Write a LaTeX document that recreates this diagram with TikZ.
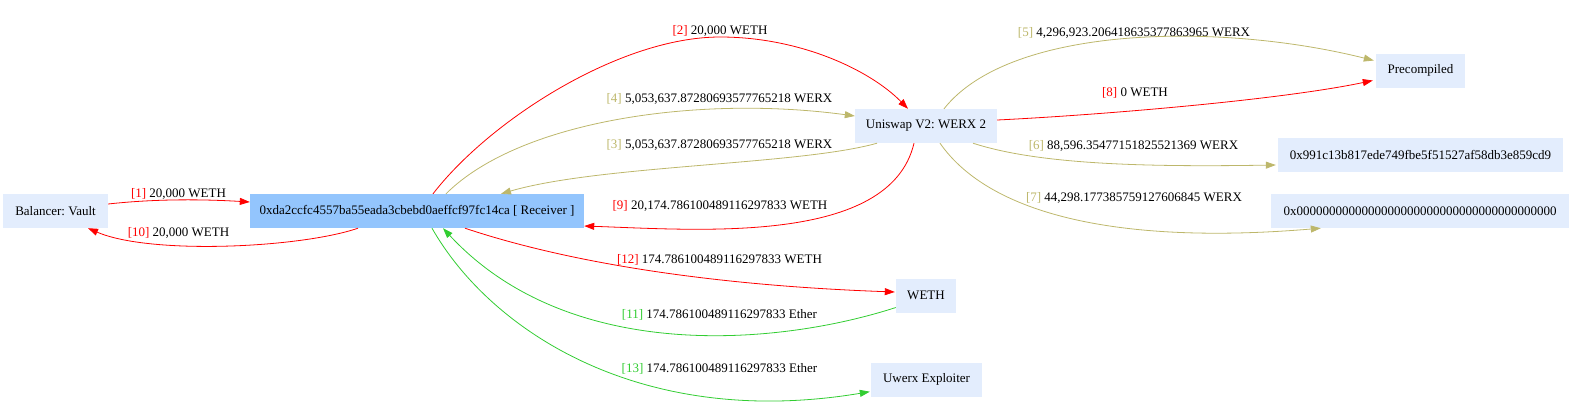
\documentclass[tikz,border=0pt]{standalone}
\usepackage{fontspec}
\setmainfont{Liberation Serif}
\usetikzlibrary{arrows.meta}
\usetikzlibrary{calc}
\definecolor{boxfill}{HTML}{E3EDFD}
\definecolor{recvfill}{HTML}{93C5FD}
\definecolor{werx}{HTML}{BDB76B}
\definecolor{eth}{HTML}{32CD32}
\frenchspacing

\tikzset{
    acct/.style={fill=boxfill,minimum height=34pt,inner sep=0pt,font=\fontsize{13}{15}\selectfont},
    lab/.style={anchor=base,inner sep=0pt,font=\fontsize{13}{15}\selectfont},
    flow/.style={line width=0.8pt,-{Triangle[length=10pt,width=7pt]}},
}

\begin{document}
\begin{tikzpicture}[x=1pt,y=-1pt]
    \useasboundingbox (0,0) rectangle (1573,405);

    \node[acct,minimum width=105pt] (vault) at (55.5,211) {Balancer: Vault};
    \node[acct,fill=recvfill,minimum width=334pt] (recv) at (417,211) {0xda2ccfc4557ba55eada3cbebd0aeffcf97fc14ca [ Receiver ]};
    \node[acct,minimum width=142pt] (uni) at (926,126) {Uniswap V2: WERX 2};
    \node[acct,minimum width=89pt] (precomp) at (1420.5,70.5) {Precompiled};
    \node[acct,minimum width=285pt] (addrA) at (1420.5,154.5) {0x991c13b817ede749fbe5f51527af58db3e859cd9};
    \node[acct,minimum width=298pt] (addrB) at (1420,211) {0x0000000000000000000000000000000000000000};
    \node[acct,minimum width=60pt] (weth) at (926,295.5) {WETH};
    \node[acct,minimum width=111pt] (exploiter) at (926.5,379.5) {Uwerx Exploiter};

    % transfers
    \draw[flow,red] ($(vault.east)+(0,-7)$) .. controls +(45,-5) and +(-50,-3) .. ($(recv.west)+(0,-9)$);
    \draw[flow,red] ($(recv.north)+(16,0)$) .. controls (490,120) and (620,37) .. (720,37) .. controls (800,37) and (870,70) .. ($(uni.north)+(-18,0)$);
    \draw[flow,werx] ($(uni.south)+(-49,0)$) .. controls (800,165) and (600,165) .. ($(recv.north)+(84,0)$);
    \draw[flow,werx] ($(recv.north)+(29,0)$) .. controls (520,120) and (700,95) .. ($(uni.west)+(0,-10)$);
    \draw[flow,werx] ($(uni.north)+(18,0)$) .. controls (1010,25) and (1220,22) .. ($(precomp.west)+(-2,-10)$);
    \draw[flow,werx] ($(uni.south)+(47,0)$) .. controls (1040,165) and (1150,167) .. ($(addrA.west)+(-2,10.5)$);
    \draw[flow,werx] ($(uni.south)+(14,0)$) .. controls (990,215) and (1120,245) .. ($(addrB.south west)+(50,0)$);
    \draw[flow,red] ($(uni.east)+(0,-6)$) .. controls (1100,115) and (1280,100) .. ($(precomp.west)+(-3,10)$);
    \draw[flow,red] ($(uni.south)+(-12,0)$) .. controls (890,245) and (700,230) .. ($(recv.east)+(0,15)$);
    \draw[flow,red] ($(recv.south)+(-59,0)$) .. controls (300,248) and (150,255) .. ($(vault.south)+(32.5,0)$);
    \draw[flow,eth] ($(weth.west)+(0,12)$) .. controls (780,345) and (570,365) .. ($(recv.south)+(26,0)$);
    \draw[flow,red] ($(recv.south)+(48,0)$) .. controls (560,260) and (700,285) .. ($(weth.west)+(-1,-3.5)$);
    \draw[flow,eth] ($(recv.south)+(15,0)$) .. controls (490,330) and (640,430) .. ($(exploiter.south west)+(-1,-5)$);

    \node[lab] (l1) at (178.5,197.5) {\textcolor{red}{[1]} 20,000 WETH};
    \node[lab] (l2) at (720,34) {\textcolor{red}{[2]} 20,000 WETH};
    \node[lab] (l3) at (719.5,148.7) {\textcolor{werx}{[3]} 5,053,637.87280693577765218 WERX};
    \node[lab] (l4) at (719.5,102.3) {\textcolor{werx}{[4]} 5,053,637.87280693577765218 WERX};
    \node[lab] (l5) at (1134,36) {\textcolor{werx}{[5]} 4,296,923.206418635377863965 WERX};
    \node[lab] (l6) at (1133.5,149.3) {\textcolor{werx}{[6]} 88,596.35477151825521369 WERX};
    \node[lab] (l7) at (1134,201) {\textcolor{werx}{[7]} 44,298.177385759127606845 WERX};
    \node[lab] (l8) at (1135,96) {\textcolor{red}{[8]} 0 WETH};
    \node[lab] (l9) at (720,209) {\textcolor{red}{[9]} 20,174.786100489116297833 WETH};
    \node[lab] (l10) at (178.5,236.5) {\textcolor{red}{[10]} 20,000 WETH};
    \node[lab] (l11) at (719.5,318.3) {\textcolor{eth}{[11]} 174.786100489116297833 Ether};
    \node[lab] (l12) at (719.5,263.3) {\textcolor{red}{[12]} 174.786100489116297833 WETH};
    \node[lab] (l13) at (719.5,372.7) {\textcolor{eth}{[13]} 174.786100489116297833 Ether};
\end{tikzpicture}
\end{document}
